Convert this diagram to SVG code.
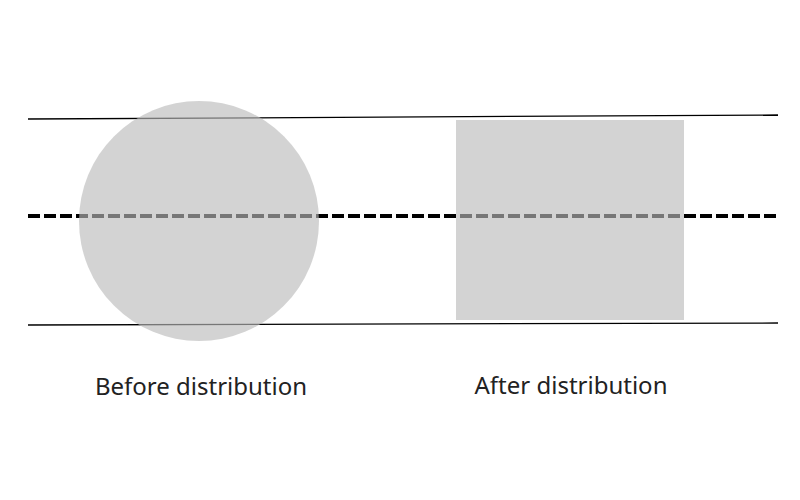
<svg xmlns="http://www.w3.org/2000/svg" width="800" height="500" viewBox="0 0 800 500">
<style>
.l{stroke:#000;stroke-width:1.3;fill:none}
.d{stroke:#000;stroke-width:4;stroke-dasharray:12 4;fill:none}
.s{fill:#bababa;fill-opacity:0.64}
.t{font-family:"Noto Sans","Open Sans",sans-serif;font-size:24px;fill:#222;text-anchor:middle}
</style>
<rect width="800" height="500" fill="#fff"/>
<g id="connectors">
<line class="l" x1="28" y1="119" x2="778" y2="115"/>
<line class="l" x1="28" y1="325" x2="778" y2="323"/>
<line class="d" x1="28" y1="216" x2="778" y2="216"/>
</g>
<g id="before"><circle class="s" cx="199" cy="221" r="120"/><text class="t" x="201" y="395">Before distribution</text></g>
<g id="after"><rect class="s" x="456" y="120" width="228" height="200"/><text class="t" x="571" y="394">After distribution</text></g>
</svg>
